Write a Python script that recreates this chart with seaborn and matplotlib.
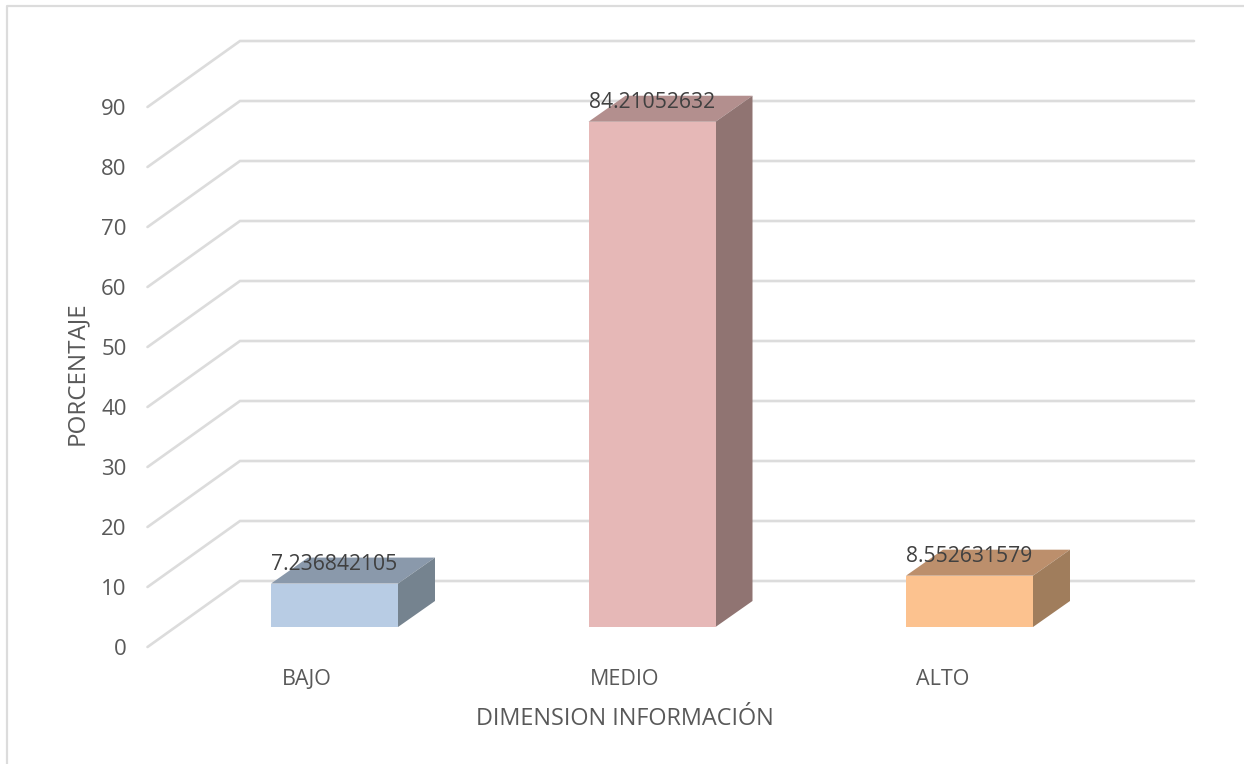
import matplotlib
matplotlib.use("Agg")
import matplotlib.pyplot as plt
from matplotlib.lines import Line2D
import seaborn as sns
import pandas as pd

categories = ["BAJO", "MEDIO", "ALTO"]
values = [7.236842105, 84.21052632, 8.552631579]
value_labels = ["7.236842105", "84.21052632", "8.552631579"]
y_ticks = [0, 10, 20, 30, 40, 50, 60, 70, 80, 90]
front_colors = ["#B8CCE4", "#E6B8B7", "#FCC28F"]
top_colors = ["#8A99AB", "#B38F8E", "#BC8F6C"]
side_colors = ["#75838F", "#907472", "#A07D5C"]
x_title = "DIMENSION INFORMACIÓN"
y_title = "PORCENTAJE"

W, H = 1244, 764
GRID = "#DCDCDC"
TEXT = "#595959"
LABEL = "#404040"

sns.set_theme(style="white")
plt.rcParams["font.family"] = ["Open Sans", "DejaVu Sans"]

fig = plt.figure(figsize=(W / 100, H / 100), dpi=100, facecolor="white")


def axes_px(left, top, width, height):
    return fig.add_axes([left / W, 1 - (top + height) / H, width / W, height / H])


# chart frame
fig.add_artist(Line2D([7 / W, 7 / W, 1], [0, 1 - 5.5 / H, 1 - 5.5 / H],
                      transform=fig.transFigure, color=GRID, lw=1.6))

# front plane of the walls: carries the axes ticks, labels and gridlines
wall = axes_px(147.5, 107, 954, 540)
wall.set_xlim(-0.5, 2.5)
wall.set_ylim(0, 90)
wall.patch.set_visible(False)
sns.despine(ax=wall, left=True, bottom=True, top=True, right=True)
wall.set_xticks(range(len(categories)))
wall.set_xticklabels(categories)
wall.set_yticks(y_ticks)
wall.tick_params(axis="x", length=0, pad=15.5, labelsize=15.5, labelcolor=TEXT)
wall.tick_params(axis="y", length=0, pad=15, labelsize=16, labelcolor=TEXT)
wall.set_xlabel(x_title, fontsize=16.9, color=TEXT, labelpad=0)
wall.set_ylabel(y_title, fontsize=17.4, color=TEXT)
wall.xaxis.set_label_coords(0.5, -72 / 540)
wall.yaxis.set_label_coords((77 - 147.5) / 954, 0.5 + 4 / 540)
wall.xaxis.label.set_verticalalignment("center")
wall.yaxis.label.set_verticalalignment("center")
wall.grid(False)

WALL_DX = 92.5 / 318
WALL_DY = 66 / 6
for v in y_ticks:
    wall.plot([-0.5, -0.5 + WALL_DX, 2.5 + WALL_DX], [v, v + WALL_DY, v + WALL_DY],
              color=GRID, lw=1.9, clip_on=False, solid_joinstyle="miter", zorder=1)

# plane of the bar fronts
bars = axes_px(175.75, 87, 952.5, 540)
bars.patch.set_visible(False)
df = pd.DataFrame({"cat": categories, "val": values})
sns.barplot(data=df, x="cat", y="val", hue="cat", palette=front_colors, width=0.4,
            dodge=False, legend=False, ax=bars, saturation=1, linewidth=0, zorder=3)
bars.set_xlim(-0.5, 2.5)
bars.set_ylim(0, 90)
bars.set_axis_off()

DX = 37 / 317.5
DY = 26 / 6
HALF = 0.2
for i, v in enumerate(values):
    l, r = i - HALF, i + HALF
    bars.fill([l, r, r + DX, l + DX], [v, v, v + DY, v + DY],
              color=top_colors[i], lw=0, clip_on=False, zorder=2)
    bars.fill([r, r + DX, r + DX, r], [0, DY, v + DY, v],
              color=side_colors[i], lw=0, clip_on=False, zorder=2)
    bars.annotate(value_labels[i], xy=(i, v), xytext=(0, 13.8), textcoords="offset points",
                  ha="center", va="center", fontsize=15.2, color=LABEL,
                  annotation_clip=False, zorder=5)

fig.savefig("out.png", dpi=100, facecolor="white")
